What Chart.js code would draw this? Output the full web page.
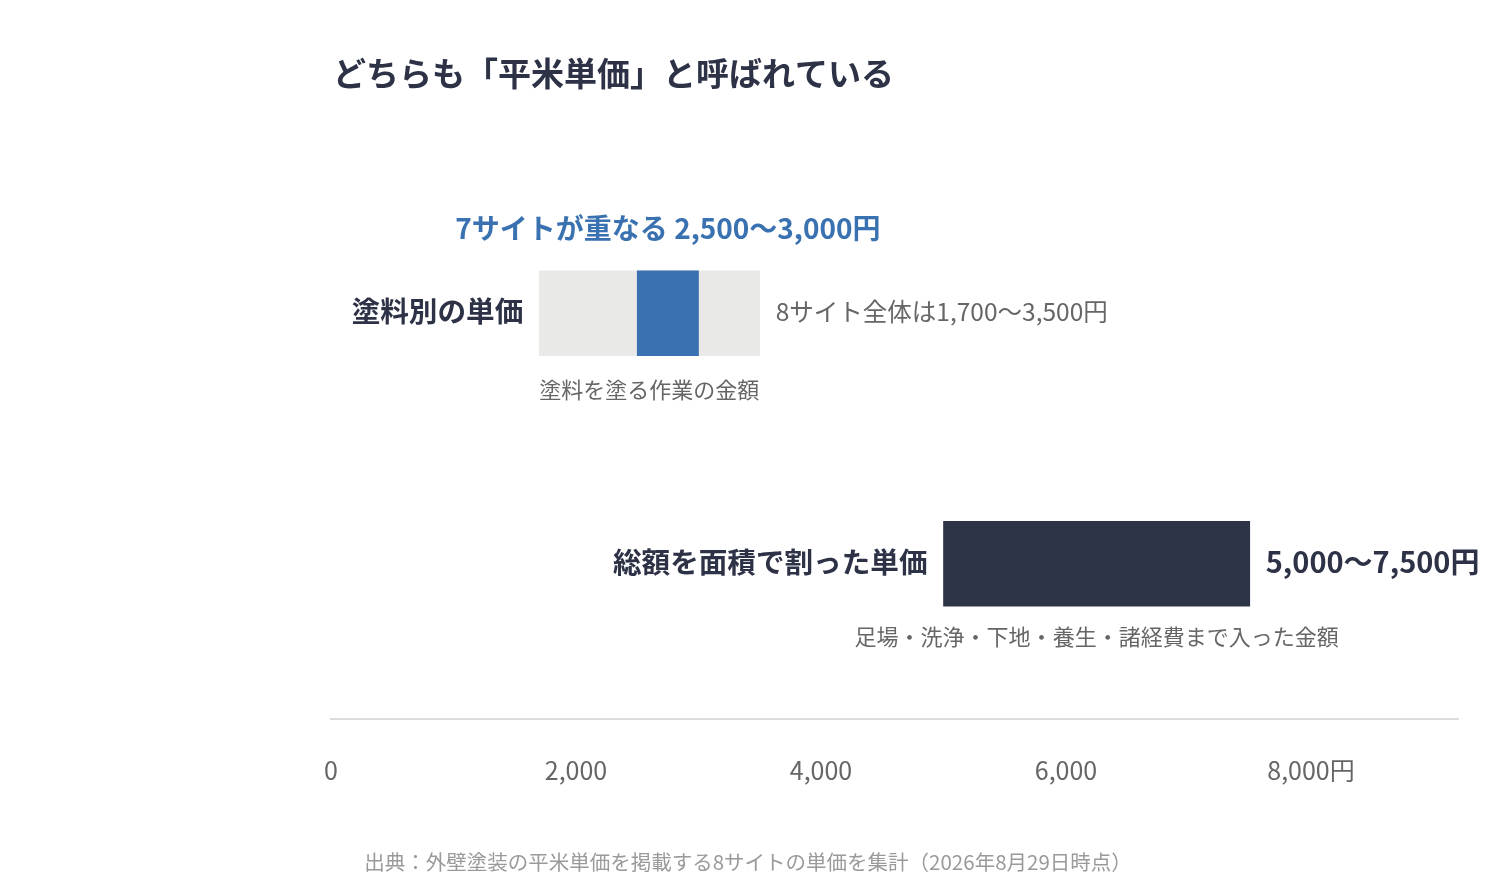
<!DOCTYPE html>
<html lang="ja">
<head>
<meta charset="utf-8">
<script src="https://cdn.jsdelivr.net/npm/chart.js@4.4.1/dist/chart.umd.min.js"></script>
<style>
  html, body { margin: 0; padding: 0; background: #ffffff; }
  #wrap { width: 1504px; height: 896px; position: relative; }
</style>
</head>
<body>
<div id="wrap"><canvas id="c" width="1504" height="896"></canvas></div>
<script>
// ---- data ----
const chartTitle = 'どちらも「平米単価」と呼ばれている';
const sourceNote = '出典：外壁塗装の平米単価を掲載する8サイトの単価を集計（2026年8月29日時点）';
const categories = ['塗料別の単価', '総額を面積で割った単価'];
const rangeLow = [1700, 5000];
const rangeHigh = [3500, 7500];
const overlapLow = [2500];
const overlapHigh = [3000];
const overlapLabel = '7サイトが重なる 2,500〜3,000円';
const valueLabels = ['8サイト全体は1,700〜3,500円', '5,000〜7,500円'];
const noteLabels = ['塗料を塗る作業の金額', '足場・洗浄・下地・養生・諸経費まで入った金額'];
const tickValues = [0, 2000, 4000, 6000, 8000];
const tickLabels = ['0', '2,000', '4,000', '6,000', '8,000円'];

const FONT = '"Noto Sans CJK JP", "Noto Sans", sans-serif';
const DARK = '#2d3246';
const BLUE = '#3a71b0';
const GRAY_TEXT = '#666666';

const rangeData = categories.map((c, i) => ({ y: i, x: [rangeLow[i], rangeHigh[i]] }));
const overlapData = overlapLow.map((v, i) => ({ y: i, x: [overlapLow[i], overlapHigh[i]] }));

const textPlugin = {
  id: 'texts',
  afterDatasetsDraw(chart) {
    const ctx = chart.ctx;
    const xs = chart.scales.x;
    const rangeMeta = chart.getDatasetMeta(1);
    const ovMeta = chart.getDatasetMeta(0);
    ctx.save();
    ctx.textBaseline = 'middle';

    // title
    ctx.font = 'bold 33px ' + FONT;
    ctx.fillStyle = DARK;
    ctx.textAlign = 'left';
    ctx.fillText(chartTitle, xs.left + 2, 73);

    categories.forEach((cat, i) => {
      const el = rangeMeta.data[i];
      const left = Math.min(el.x, el.base);
      const right = Math.max(el.x, el.base);
      const bottom = el.y + el.height / 2;
      const cy = el.y - 2;

      // category label
      ctx.font = 'bold 28.6px ' + FONT;
      ctx.fillStyle = DARK;
      ctx.textAlign = 'right';
      ctx.fillText(cat, left - 16, cy);

      // value label
      ctx.textAlign = 'left';
      if (i === 0) {
        ctx.font = '24.5px ' + FONT;
        ctx.fillStyle = GRAY_TEXT;
      } else {
        ctx.font = 'bold 29px ' + FONT;
        ctx.fillStyle = DARK;
      }
      ctx.fillText(valueLabels[i], right + 16, cy);

      // note
      ctx.font = '22px ' + FONT;
      ctx.fillStyle = GRAY_TEXT;
      if (i === 0) {
        ctx.textAlign = 'left';
        ctx.fillText(noteLabels[i], left, bottom + 34);
      } else {
        ctx.textAlign = 'center';
        ctx.fillText(noteLabels[i], (left + right) / 2, bottom + 30);
      }
    });

    // overlap label
    const ov = ovMeta.data[0];
    ctx.font = 'bold 28px ' + FONT;
    ctx.fillStyle = BLUE;
    ctx.textAlign = 'center';
    ctx.fillText(overlapLabel, (ov.x + ov.base) / 2, ov.y - ov.height / 2 - 42);

    // source
    ctx.font = '20.5px ' + FONT;
    ctx.fillStyle = '#9a9a9a';
    ctx.textAlign = 'center';
    ctx.fillText(sourceNote, 748, 862);
    ctx.restore();
  }
};

new Chart(document.getElementById('c'), {
  type: 'bar',
  data: {
    datasets: [
      {
        label: '重なり',
        data: overlapData,
        backgroundColor: BLUE,
        stack: 'same',
        barThickness: 85,
        order: 0
      },
      {
        label: '全体',
        data: rangeData,
        backgroundColor: ['#e9e9e7', '#2e3447'],
        stack: 'same',
        barThickness: 85,
        order: 1
      }
    ]
  },
  options: {
    indexAxis: 'y',
    responsive: false,
    animation: false,
    devicePixelRatio: 1,
    layout: { padding: { left: 331, right: 46, top: 188, bottom: 0 } },
    plugins: {
      legend: { display: false },
      tooltip: { enabled: false },
      title: { display: false }
    },
    scales: {
      y: {
        type: 'linear',
        display: false,
        offset: false,
        reverse: true,
        min: -0.5,
        max: 1.62
      },
      x: {
        type: 'linear',
        position: 'bottom',
        stacked: false,
        min: 0,
        max: 9200,
        grid: { display: false, drawTicks: false },
        border: { display: true, color: '#dcdcdc', width: 2 },
        afterFit(scale) { scale.height = 177; },
        afterBuildTicks(scale) { scale.ticks = tickValues.map(v => ({ value: v })); },
        ticks: {
          autoSkip: false,
          maxRotation: 0,
          padding: 36,
          color: '#666666',
          font: { family: FONT, size: 25 },
          callback(value) {
            const k = tickValues.indexOf(value);
            return k >= 0 ? tickLabels[k] : '';
          }
        }
      }
    }
  },
  plugins: [textPlugin]
});
</script>
</body>
</html>
